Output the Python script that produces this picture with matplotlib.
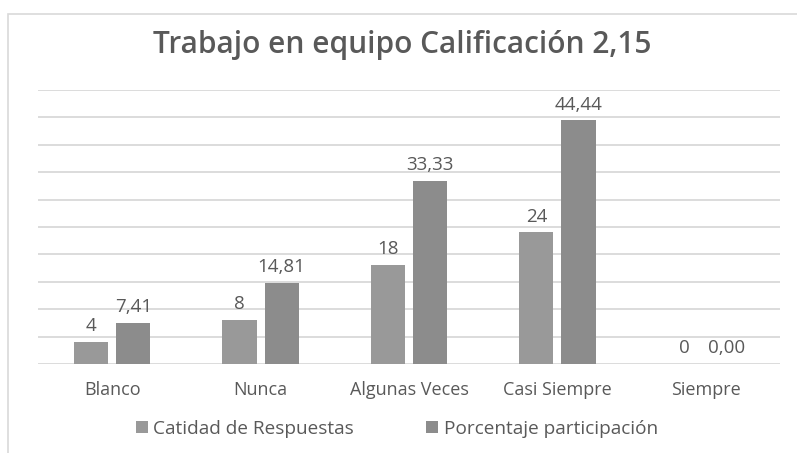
import numpy as np
import matplotlib
matplotlib.use('Agg')
import matplotlib.pyplot as plt
from matplotlib.patches import Rectangle

categorias = ['Blanco', 'Nunca', 'Algunas Veces', 'Casi Siempre', 'Siempre']
respuestas = [4, 8, 18, 24, 0]
porcentaje = [7.41, 14.81, 33.33, 44.44, 0.00]
etiquetas_resp = ['4', '8', '18', '24', '0']
etiquetas_porc = ['7,41', '14,81', '33,33', '44,44', '0,00']

plt.rcParams['font.family'] = ['Open Sans', 'DejaVu Sans']
gris_texto = '#595959'

fig = plt.figure(figsize=(7.97, 4.53), dpi=100)
# marco del grafico
fig.patches.append(Rectangle((8 / 797, -0.05), 1.0, 1 - 14 / 453 + 0.05, transform=fig.transFigure,
                             fill=False, edgecolor='#d9d9d9', linewidth=1.2))

ax = fig.add_axes([38 / 797, 1 - 364 / 453, 742 / 797, 274 / 453])
x = np.arange(len(categorias))
ancho = 0.23
desp = 0.142
b1 = ax.bar(x - desp, respuestas, ancho, color='#999999', zorder=2, label='Catidad de Respuestas')
b2 = ax.bar(x + desp, porcentaje, ancho, color='#8c8c8c', zorder=2, label='Porcentaje participación')

for i in range(len(x)):
    ax.annotate(etiquetas_resp[i], (x[i] - desp, respuestas[i]), xytext=(0, 5), textcoords='offset points',
                ha='center', va='bottom', fontsize=13.5, color=gris_texto)
    ax.annotate(etiquetas_porc[i], (x[i] + desp, porcentaje[i]), xytext=(0, 5), textcoords='offset points',
                ha='center', va='bottom', fontsize=13.5, color=gris_texto)

ax.set_xlim(-0.5, len(categorias) - 0.5)
ax.set_ylim(0, 50)
ax.set_yticks(np.arange(0, 51, 5))
ax.yaxis.grid(True, color='#d9d9d9', linewidth=1.3, zorder=0)
ax.set_axisbelow(True)
ax.tick_params(axis='y', left=False, labelleft=False)
ax.tick_params(axis='x', bottom=False, labelsize=13, labelcolor=gris_texto, pad=9)
ax.set_xticks(x)
ax.set_xticklabels(categorias)
for s in ax.spines.values():
    s.set_visible(False)

fig.text(402 / 797, 1 - 45 / 453, 'Trabajo en equipo Calificación 2,15', ha='center', va='center',
         fontsize=21.5, fontweight='semibold', color=gris_texto)

ax.legend(loc='center', bbox_to_anchor=(0.5 - 12 / 742, -65 / 274), ncol=2, frameon=False,
          fontsize=13.7, labelcolor=gris_texto, handlelength=0.6, handleheight=0.6, handletextpad=0.3,
          columnspacing=3.8)

fig.savefig('out.png', dpi=100)
